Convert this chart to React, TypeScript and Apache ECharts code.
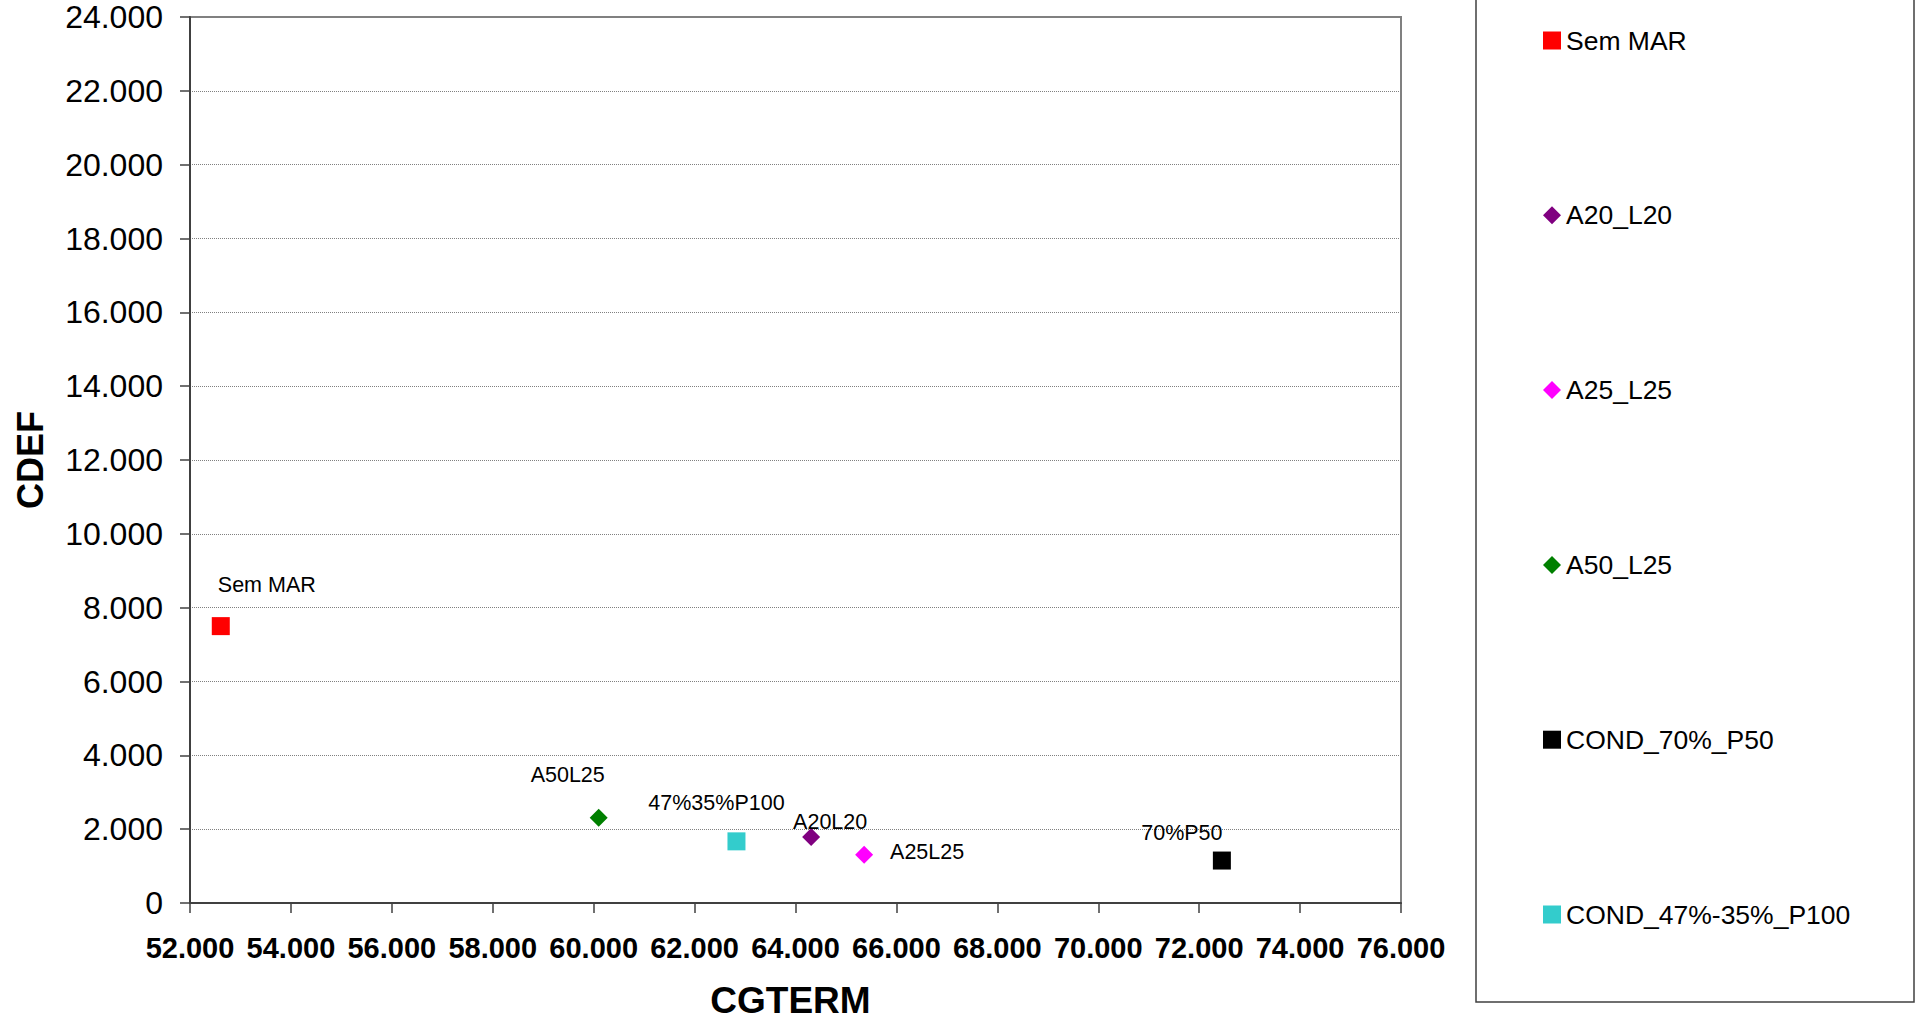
import React, { useEffect, useRef } from "react";
import * as echarts from "echarts";

const seriesNames = [
  "Sem MAR",
  "A20_L20",
  "A25_L25",
  "A50_L25",
  "COND_70%_P50",
  "COND_47%-35%_P100",
];
const pointLabels = ["Sem MAR", "A20L20", "A25L25", "A50L25", "70%P50", "47%35%P100"];
const cgtermValues = [52610, 64310, 65360, 60100, 72450, 62830];
const cdefValues = [7500, 1790, 1310, 2310, 1150, 1670];
const seriesColors = ["#FF0000", "#800080", "#FF00FF", "#008000", "#000000", "#33CCCC"];
const seriesSymbols = ["rect", "diamond", "diamond", "diamond", "rect", "rect"];
const labelOffsets: [number, number][] = [
  [46, -41],
  [19, -15],
  [63, -3],
  [-31, -43],
  [-40, -28],
  [-20, -38],
];

const FONT = "'Liberation Sans', Arial, sans-serif";

function fmt(v: number): string {
  const s = Math.round(v).toString();
  return s.replace(/\B(?=(\d{3})+(?!\d))/g, ".");
}

export default function App() {
  const ref = useRef<HTMLDivElement>(null);
  useEffect(() => {
    if (!ref.current) return;
    const chart = echarts.init(ref.current, null, { renderer: "svg" });
    const series = seriesNames.map((name, i) => ({
      name,
      type: "scatter",
      symbol: seriesSymbols[i],
      symbolSize: 18,
      itemStyle: { color: seriesColors[i], opacity: 1 },
      data: [[cgtermValues[i], cdefValues[i]]],
      label: {
        show: true,
        position: "inside",
        offset: labelOffsets[i],
        formatter: pointLabels[i],
        fontSize: 21.5,
        color: "#000",
        fontFamily: FONT,
      },
    }));
    chart.setOption({
      animation: false,
      backgroundColor: "#ffffff",
      textStyle: { fontFamily: FONT },
      grid: {
        left: 190,
        top: 17,
        width: 1211,
        height: 886,
        outerBoundsMode: "none",
        containLabel: false,
        show: true,
        borderColor: "#808080",
        borderWidth: 2,
        backgroundColor: "transparent",
      },
      xAxis: {
        type: "value",
        min: 52000,
        max: 76000,
        interval: 2000,
        name: "CGTERM",
        nameLocation: "middle",
        nameGap: 79,
        nameTextStyle: {
          fontSize: 37,
          fontWeight: "bold",
          color: "#000",
          fontFamily: FONT,
          padding: [0, 10, 0, 0],
        },
        axisLine: { show: true, lineStyle: { color: "#404040", width: 2 } },
        axisTick: { show: true, length: 10, lineStyle: { color: "#404040", width: 1.5 } },
        axisLabel: {
          formatter: (v: number) => fmt(v),
          fontSize: 29,
          fontWeight: "bold",
          color: "#000",
          margin: 30,
          fontFamily: FONT,
        },
        splitLine: { show: false },
      },
      yAxis: {
        type: "value",
        min: 0,
        max: 24000,
        interval: 2000,
        name: "CDEF",
        nameLocation: "middle",
        nameGap: 142,
        nameTextStyle: { fontSize: 36, fontWeight: "bold", color: "#000", fontFamily: FONT },
        axisLine: { show: true, lineStyle: { color: "#404040", width: 2 } },
        axisTick: { show: true, length: 10, lineStyle: { color: "#404040", width: 1.5 } },
        axisLabel: {
          formatter: (v: number) => fmt(v),
          fontSize: 32,
          color: "#000",
          margin: 27,
          fontFamily: FONT,
        },
        splitLine: { show: true, lineStyle: { color: "#808080", width: 1, type: "dotted" } },
      },
      legend: {
        orient: "vertical",
        left: 1543,
        top: 27,
        padding: 0,
        itemWidth: 18,
        itemHeight: 18,
        itemGap: 147.8,
        textStyle: { fontSize: 26.5, lineHeight: 26, color: "#000", fontFamily: FONT },
        data: seriesNames.map((n, i) => ({ name: n, icon: seriesSymbols[i] })),
      },
      graphic: [
        {
          type: "rect",
          shape: { x: 1476, y: -5, width: 438, height: 1007 },
          style: { fill: "transparent", stroke: "#404040", lineWidth: 1.5 },
          silent: true,
          z: -1,
        },
      ],
      series,
    });
    return () => chart.dispose();
  }, []);
  return (
    <div
      ref={ref}
      style={{ position: "absolute", left: 0, top: 0, width: 1915, height: 1020 }}
    />
  );
}
